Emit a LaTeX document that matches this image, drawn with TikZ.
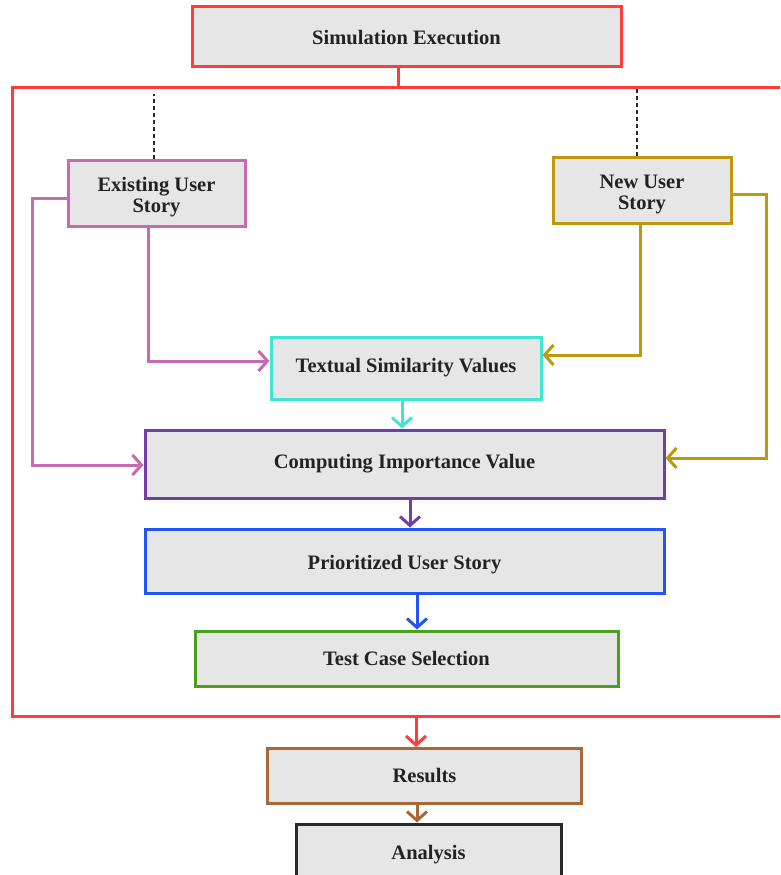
\documentclass[tikz,border=0pt]{standalone}
\usepackage{fontspec}
\setmainfont{Liberation Serif}
\usetikzlibrary{arrows.meta}
\definecolor{framered}{HTML}{FF3C3C}
\definecolor{pinkc}{HTML}{C86AB0}
\definecolor{goldc}{HTML}{C0980C}
\definecolor{cyanc}{HTML}{40E6D0}
\definecolor{purplec}{HTML}{7040A8}
\definecolor{bluec}{HTML}{2255F5}
\definecolor{greenc}{HTML}{4CA020}
\definecolor{brownc}{HTML}{A86838}
\definecolor{darkc}{HTML}{2A2A2A}
\definecolor{boxfill}{HTML}{E6E6E6}
\definecolor{txt}{HTML}{222222}
% label set slightly lower than the box centre, keeping the box size unchanged
\newcommand\lowlabel[2]{\raisebox{-#1}[\height][\depth]{\begin{tabular}{@{}c@{}}#2\end{tabular}}}
\begin{document}
\begin{tikzpicture}[x=1pt,y=-1pt,
  box/.style={draw, fill=boxfill, line width=3pt, align=center, inner sep=0pt,
    font=\fontsize{20.5}{21}\selectfont\bfseries, text=txt},
  link/.style={line width=3pt, -{Straight Barb[length=9pt,width=20pt]}},
  plain/.style={line width=3pt},
  dots/.style={line width=2.5pt, darkc, dash pattern=on 3.5pt off 3.5pt}]
\clip (0,0) rectangle (780,875);

% outer frame, open on the right
\coordinate (ftl) at (12,87);
\coordinate (fbl) at (12,716);
\draw[plain, framered] (800,87) -- (ftl) -- (fbl) -- (800,716);

% boxes
\node[box, draw=framered, minimum width=429pt, minimum height=60pt] (sim) at (406.5,37) {\lowlabel{3pt}{Simulation Execution}};
\node[box, draw=pinkc, minimum width=177pt, minimum height=66pt] (exist) at (156.5,193) {\lowlabel{5pt}{Existing User\\Story}};
\node[box, draw=goldc, minimum width=178pt, minimum height=66pt] (newus) at (642,190) {\lowlabel{5pt}{New User\\Story}};
\node[box, draw=cyanc, minimum width=270pt, minimum height=62pt] (tsv) at (406,368) {Textual Similarity Values};
\node[box, draw=purplec, minimum width=519pt, minimum height=68pt] (civ) at (404.5,464) {Computing Importance Value};
\node[box, draw=bluec, minimum width=519pt, minimum height=64pt] (pus) at (404.5,561) {\lowlabel{4pt}{Prioritized User Story}};
\node[box, draw=greenc, minimum width=423pt, minimum height=55pt] (tcs) at (406.5,658.5) {Test Case Selection};
\node[box, draw=brownc, minimum width=314pt, minimum height=55pt] (res) at (424.5,776) {Results};
\node[box, draw=darkc, minimum width=265pt, minimum height=56pt] (ana) at (428.5,852) {\lowlabel{3pt}{Analysis}};

% execution feeds the frame
\draw[plain, framered] ([xshift=-8.5pt]sim.south) -- ([xshift=-8.5pt]sim.south |- ftl);

% dotted hangers from the frame
\draw[dots] ([xshift=-2.5pt]exist.north) -- ++(0,-65);
\draw[dots] ([xshift=-5pt]newus.north) -- ([xshift=-5pt]newus.north |- ftl);

% user story links
\draw[link, pinkc] ([xshift=-8pt]exist.south) |- ([yshift=7pt]tsv.west);
\draw[link, pinkc] ([yshift=-5pt]exist.west) -- ++(-34,0) |- ([yshift=-1pt]civ.west);
\draw[link, goldc] ([xshift=-2pt]newus.south) |- ([yshift=13pt]tsv.east);
\draw[link, goldc] ([yshift=-4pt]newus.east) -- ++(34,0) |- ([yshift=6pt]civ.east);

% main flow
\draw[link, cyanc] ([xshift=-4pt]tsv.south) -- ([xshift=-4pt]tsv.south |- civ.north);
\draw[link, purplec] ([xshift=5.5pt]civ.south) -- ([xshift=5.5pt]civ.south |- pus.north);
\draw[link, bluec] ([xshift=12.5pt]pus.south) -- ([xshift=12.5pt]pus.south |- tcs.north);
\draw[link, framered] ([xshift=-8.5pt]res.north |- fbl) -- ([xshift=-8.5pt]res.north);
\draw[link, brownc] ([xshift=-7.5pt]res.south) -- ([xshift=-7.5pt]res.south |- ana.north);
\end{tikzpicture}
\end{document}
